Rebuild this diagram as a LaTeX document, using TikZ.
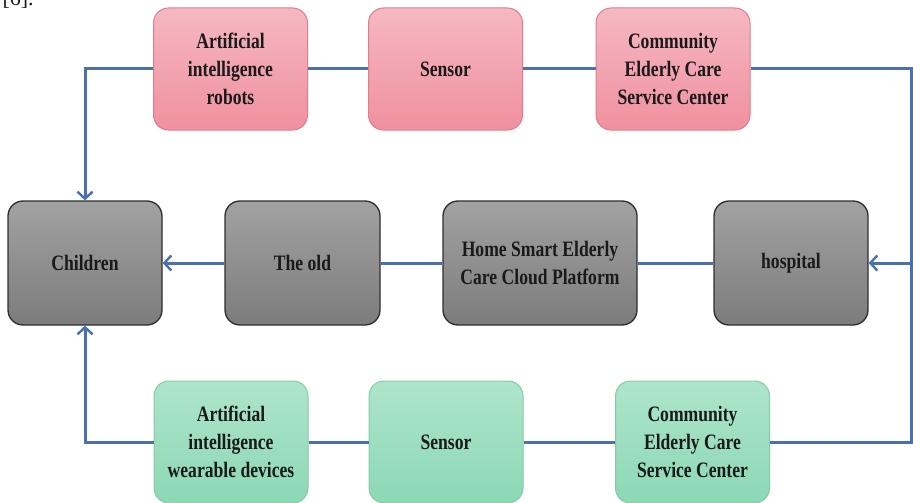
\documentclass[tikz,border=0pt]{standalone}
\usepackage{fontspec}
\setmainfont{Liberation Serif}
\newfontfamily\bx{Liberation Serif Bold}[FakeStretch=0.8]
\usetikzlibrary{arrows.meta}
\definecolor{pinkT}{HTML}{F5B8C2}
\definecolor{pinkB}{HTML}{F0909F}
\definecolor{pinkD}{HTML}{E27C8C}
\definecolor{grayT}{HTML}{A2A2A2}
\definecolor{grayB}{HTML}{7C7C7C}
\definecolor{grayD}{HTML}{2E2E2E}
\definecolor{grnT}{HTML}{AEE5CB}
\definecolor{grnB}{HTML}{8CD8B4}
\definecolor{grnD}{HTML}{84CCA8}
\definecolor{linkc}{HTML}{4A70AE}
\definecolor{txt}{HTML}{1A1A1A}
\tikzset{
  boxbase/.style={rounded corners=15pt, minimum height=122pt, minimum width=154pt,
    align=center, text=txt, font=\bx\fontsize{22}{28}\selectfont, inner sep=0pt},
  pinkbox/.style={boxbase, draw=pinkD, line width=1pt, top color=pinkT, bottom color=pinkB},
  graybox/.style={boxbase, draw=grayD, line width=1.3pt, top color=grayT, bottom color=grayB, minimum height=124pt},
  grnbox/.style={boxbase, draw=grnD, line width=1pt, top color=grnT, bottom color=grnB},
  link/.style={draw=linkc, line width=3pt},
  arr/.style={link, -{Straight Barb[length=7pt,width=15pt,line width=2.4pt]}}
}
\begin{document}
\begin{tikzpicture}[x=1pt,y=-1pt]
\useasboundingbox (0,0) rectangle (913,503);
\node[anchor=base west, font=\fontsize{22}{26}\selectfont, text=txt] (ref) at (-1,6) {[6].};
% top row
\node[pinkbox] (t1) at (230.5,69) {Artificial\\intelligence\\robots};
\node[pinkbox] (t2) at (445.5,69) {Sensor};
\node[pinkbox] (t3) at (673,69) {Community\\Elderly Care\\Service Center};
% middle row
\node[graybox] (ch) at (85,263) {Children};
\node[graybox, minimum width=155pt] (old) at (302.5,263) {The old};
\node[graybox, minimum width=194pt] (home) at (540,263) {Home Smart Elderly\\Care Cloud Platform};
\node[graybox] (ho) at (791,263) {hospital};
% bottom row
\node[grnbox] (b1) at (231,442) {Artificial\\intelligence\\wearable devices};
\node[grnbox] (b2) at (446,442) {Sensor};
\node[grnbox] (b3) at (692.5,442) {Community\\Elderly Care\\Service Center};
\coordinate (rt) at (911,69);
% connectors
\draw[link] (t1) -- (t2);
\draw[link] (t2) -- (t3);
\draw[arr] (t1.west) -| (ch.north);
\draw[arr] (t3.east) -- (rt) |- (ho.east);
\draw[link] (b3.east) -| (ho.east -| rt);
\draw[link] (b1) -- (b2);
\draw[link] (b2) -- (b3);
\draw[arr] (b1.west) -| (ch.south);
\draw[link] (ho) -- (home);
\draw[link] (home) -- (old);
\draw[arr] (old) -- (ch);
\end{tikzpicture}
\end{document}
